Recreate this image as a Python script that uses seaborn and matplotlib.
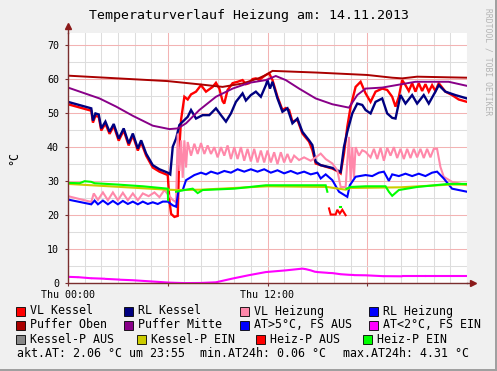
import numpy as np
import pandas as pd
import matplotlib
matplotlib.use("Agg")
import matplotlib.pyplot as plt
from matplotlib.patches import Rectangle
from matplotlib.ticker import FixedLocator, MultipleLocator, FixedFormatter
import seaborn as sns

plt.rcParams['font.family'] = ['DejaVu Sans Mono']

# ---------------- data (hours since 00:00, °C) ----------------
vl_kessel_t = [0, 1.4, 1.5, 1.65, 1.85, 2.0, 2.25, 2.5, 2.75, 3.05, 3.35, 3.65, 3.9, 4.2, 4.4, 4.7, 5.1, 5.5, 6.0,
               6.1, 6.2, 6.4, 6.6, 6.7, 6.8, 7.0, 7.2, 7.4, 7.7, 8.0, 8.3, 8.5, 8.7, 8.9, 9.1, 9.3, 9.4, 9.6, 9.9,
               10.2, 10.5, 10.7, 10.9, 11.1, 11.3, 11.5, 11.7, 11.9, 12.1, 12.3, 12.6, 12.9, 13.1, 13.3, 13.5, 13.8,
               14.1, 14.5, 14.7, 14.9, 15.2, 15.9, 16.3, 16.4, 16.6, 16.8, 17.0, 17.3, 17.6, 17.9, 18.2, 18.5, 18.9,
               19.2, 19.5, 19.7, 19.9, 20.1, 20.3, 20.5, 20.7, 20.9, 21.1, 21.3, 21.5, 21.7, 21.9, 22.1, 22.3, 22.7,
               23.1, 23.5, 24.0]
vl_kessel_v = [52.6, 50.7, 47.2, 49.2, 48.9, 44.9, 46.9, 43.9, 46.2, 41.9, 44.9, 40.5, 43.4, 39.0, 41.4, 37.5, 34.0, 32.8, 31.8,
               24.4, 20.4, 19.5, 19.8, 40.0, 48.0, 54.8, 54.0, 55.5, 56.3, 58.2, 56.3, 57.0, 57.7, 58.9, 57.2, 53.5, 52.8, 56.8, 58.8,
               59.2, 59.7, 58.5, 58.8, 60.0, 60.2, 59.7, 60.5, 61.2, 61.7, 59.7, 54.8, 50.9, 51.5, 50.9, 47.5, 48.0,
               44.0, 41.6, 39.1, 35.2, 34.7, 33.7, 32.7, 32.3, 38.1, 46.0, 51.9, 57.7, 59.2, 55.8, 53.3, 56.3, 57.2,
               56.8, 54.8, 51.9, 54.8, 59.7, 58.2, 56.5, 58.8, 56.3, 58.8, 56.5, 58.5, 56.3, 58.2, 56.5, 58.8, 56.3,
               55.3, 54.0, 53.3]

rl_kessel_t = [0, 1.4, 1.5, 1.65, 1.85, 2.0, 2.25, 2.5, 2.75, 3.05, 3.35, 3.65, 3.9, 4.2, 4.4, 4.7, 5.1, 5.5, 6.0, 6.15,
               6.3, 6.5, 6.7, 6.9, 7.2, 7.4, 7.7, 8.1, 8.5, 8.9, 9.2, 9.5, 9.8, 10.1, 10.5, 10.7, 11.0, 11.3, 11.6, 11.9,
               12.0, 12.15, 12.3, 12.6, 12.9, 13.2, 13.5, 13.8, 14.1, 14.5, 14.7, 14.9, 15.2, 15.9, 16.4, 16.6, 16.8,
               17.1, 17.4, 17.7, 17.9, 18.2, 18.5, 18.9, 19.2, 19.5, 19.7, 20.0, 20.3, 20.7, 21.0, 21.4, 21.7, 22.1,
               22.3, 22.7, 23.3, 24.0]
rl_kessel_v = [53.3, 51.4, 47.8, 49.9, 49.6, 45.5, 47.5, 44.5, 46.8, 42.5, 45.5, 41.1, 44.0, 39.6, 42.0, 38.1, 34.7, 33.5, 32.5, 32.0,
               40.1, 42.5, 46.5, 47.5, 48.9, 50.9, 48.4, 49.4, 49.4, 51.4, 49.4, 47.5, 49.9, 53.3, 55.8, 53.7, 55.3, 56.3, 54.8, 58.2,
               59.7, 57.2, 59.2, 54.3, 50.4, 51.4, 47.0, 48.4, 44.5, 42.0, 40.6, 35.7, 34.7, 33.9, 32.7, 40.1, 44.5,
               49.9, 52.8, 52.4, 50.9, 49.9, 53.3, 54.3, 49.9, 48.6, 48.4, 55.3, 52.8, 55.3, 52.8, 55.3, 52.8, 56.3,
               58.2, 56.3, 55.3, 54.3]

vl_heizung_t = [0, 1.4, 1.55, 1.8, 2.1, 2.4, 2.7, 3.0, 3.3, 3.6, 3.9, 4.2, 4.5, 4.85, 5.2, 5.5, 5.8, 6.1, 6.3, 6.5,
                6.6, 6.7, 6.8, 6.9, 7.0, 7.1, 7.2, 7.4, 7.6, 7.8, 8.0, 8.2, 8.4, 8.6, 8.8, 9.0, 9.2, 9.4, 9.6, 9.8,
                10.0, 10.2, 10.4, 10.6, 10.8, 11.0, 11.2, 11.4, 11.6, 11.8, 12.0, 12.2, 12.4, 12.6, 12.8, 13.0, 13.2,
                13.4, 13.6, 13.9, 14.2, 14.6, 14.9, 15.2, 15.5, 15.9, 16.2, 16.4, 16.7, 16.9, 17.0, 17.1, 17.2, 17.3,
                17.5, 17.7, 17.9, 18.2, 18.4, 18.6, 18.8, 19.0, 19.2, 19.4, 19.6, 19.8, 20.0, 20.2, 20.4, 20.6, 20.8,
                21.0, 21.2, 21.4, 21.6, 21.8, 22.0, 22.2, 22.4, 22.6, 23.1, 24.0]
vl_heizung_v = [25.6, 23.9, 26.4, 24.5, 26.7, 24.4, 26.7, 24.4, 26.6, 24.4, 26.4, 24.4, 26.4, 25.6, 26.7, 25.3, 27.4, 25.6, 24.5, 23.8,
                44.0, 33.0, 42.0, 31.0, 42.0, 34.0, 41.5, 37.5, 41.0, 38.0, 41.2, 38.0, 40.5, 38.0, 40.0, 37.0, 40.0, 37.5, 40.5, 36.5,
                40.0, 36.5, 40.0, 36.0, 39.5, 35.8, 39.5, 35.5, 39.0, 35.5, 39.0, 35.5, 38.5, 35.0, 38.5, 35.5, 38.0,
                35.5, 37.5, 36.2, 37.0, 36.0, 37.0, 38.1, 36.5, 35.2, 33.2, 28.3, 28.3, 43.0, 30.0, 40.0, 31.0, 40.0,
                37.5, 39.1, 38.6, 37.0, 39.5, 36.5, 39.8, 36.0, 39.8, 37.5, 40.0, 36.8, 39.5, 36.5, 39.5, 36.8, 39.5,
                37.0, 39.5, 36.8, 39.5, 37.0, 39.5, 39.5, 34.2, 31.3, 29.8, 28.8]

rl_heizung_t = [0, 1.4, 1.6, 1.8, 2.1, 2.4, 2.7, 3.0, 3.3, 3.6, 3.9, 4.2, 4.5, 4.8, 5.1, 5.4, 5.7, 6.0, 6.3, 6.5,
                6.65, 6.9, 7.1, 7.6, 8.0, 8.3, 8.6, 9.0, 9.4, 9.8, 10.2, 10.6, 11.0, 11.4, 11.8, 12.2, 12.6, 13.0,
                13.4, 13.8, 14.2, 14.6, 15.0, 15.2, 15.5, 15.9, 16.3, 16.8, 16.95, 17.3, 17.9, 18.3, 18.7, 19.0, 19.3,
                19.5, 19.9, 20.3, 20.7, 21.1, 21.5, 21.9, 22.2, 22.6, 23.1, 24.0]
rl_heizung_v = [24.6, 23.2, 24.3, 23.2, 24.3, 23.2, 24.2, 23.2, 24.2, 23.3, 24.0, 23.2, 24.0, 23.3, 23.8, 23.3, 24.0, 24.0, 22.9, 22.5,
                27.4, 27.4, 30.3, 31.8, 32.5, 32.0, 32.8, 32.2, 33.0, 32.5, 33.5, 32.8, 33.5, 32.8, 33.5, 32.5, 33.2, 32.3,
                33.0, 32.2, 32.8, 32.0, 32.5, 30.8, 32.0, 30.3, 26.9, 25.4, 28.8, 31.3, 31.8, 31.5, 32.5, 32.8, 30.1,
                32.0, 31.5, 32.2, 31.5, 32.2, 31.5, 32.5, 32.8, 30.8, 27.8, 26.9]

puffer_oben_t = [0, 3, 6, 8, 9.3, 10.5, 11.5, 11.9, 12.3, 15, 18, 19.5, 20.1, 21, 24]
puffer_oben_v = [61.0, 60.2, 59.4, 58.4, 57.7, 58.7, 60.3, 61.2, 62.4, 61.9, 61.2, 60.4, 60.2, 60.7, 60.4]

puffer_mitte_t = [0, 1.9, 2.9, 3.9, 5.1, 6.1, 6.6, 7.1, 7.9, 8.9, 9.9, 10.9, 11.9, 12.5, 13.1, 13.9, 14.9, 15.9,
                  16.9, 17.4, 17.9, 18.9, 20.9, 22.9, 24.0]
puffer_mitte_v = [57.5, 54.3, 51.9, 49.2, 46.3, 45.3, 45.5, 47.0, 50.9, 54.8, 57.2, 58.9, 59.7, 60.9, 59.7, 57.2, 54.3, 52.6,
                  51.6, 55.3, 57.2, 57.5, 59.2, 59.2, 58.0]

# outside temperature; None = no value (gap)
at_t = [0, 0.55, None, 0.65, 1.35, None, 1.45, 1.9, 2.15, None, 2.25, 3.05, None, 3.15, 3.9, 6.1, 7.0, 8.0, 8.9, 9.9,
        10.9, 11.9, 13.1, 14.1, 14.25, None, 14.35, 14.6, 14.85, None, 14.95, 15.0, 15.55, None, 15.65, 15.9, 16.35,
        None, 16.45, 16.9, 17.15, None, 17.25, 17.9, 18.95, None, 19.05, 20.05, None, 20.15, 21.45, None, 21.55, 22.05,
        None, 22.15, 23.15, None, 23.25, 24.0]
at_v = [1.9, 1.8, None, 1.78, 1.5, None, 1.48, 1.4, 1.35, None, 1.3, 1.1, None, 1.05, 0.9, 0.2, 0.06, 0.1, 0.3, 1.4,
        2.4, 3.3, 3.8, 4.31, 4.2, None, 4.1, 3.8, 3.4, None, 3.35, 3.3, 3.1, None, 3.05, 3.0, 2.7,
        None, 2.65, 2.5, 2.45, None, 2.4, 2.35, 2.1, None, 2.1, 2.06, None, 2.06, 2.06, None, 2.06, 2.06,
        None, 2.06, 2.06, None, 2.06, 2.06]

kessel_p_ein_t = [0, 6.0, 6.5, 8.0, 12.0, 15.6, 16.0, 16.7, 17.0, 20.0, 23.0, 24.0]
kessel_p_ein_v = [29.2, 27.5, 27.4, 27.5, 28.5, 28.3, 28.0, 27.5, 28.0, 28.2, 29.0, 29.0]

heiz_p_aus_t = [15.7, 15.8, 16.1, 16.2, 16.35, 16.5, 16.7]
heiz_p_aus_v = [22.0, 20.2, 20.2, 21.6, 20.5, 21.6, 20.0]

heiz_p_ein_t = [0, 0.7, 1.0, 1.4, 1.6, 3.0, 4.5, 6.0, 6.02, None, 6.5, 7.0, 7.5, 7.8, 8.1, 10.0, 11.9, 15.5, 15.6,
                None, 16.38, 16.45, None, 16.75, 17.0, 17.9, 19.1, 19.3, 19.5, 19.9, 21.0, 22.9, 24.0]
heiz_p_ein_v = [29.5, 29.4, 30.0, 29.8, 29.4, 29.0, 28.5, 27.8, 24.4, None, 26.9, 27.4, 27.8, 26.5, 27.4, 27.8, 28.8, 28.8, 26.9,
                None, 22.4, 22.4, None, 27.8, 28.3, 28.5, 28.5, 26.9, 25.7, 27.4, 28.3, 29.2, 29.2]

legend_labels = ["VL Kessel", "RL Kessel", "VL Heizung", "RL Heizung",
                 "Puffer Oben", "Puffer Mitte", "AT>5°C, FS AUS", "AT<2°C, FS EIN",
                 "Kessel-P AUS", "Kessel-P EIN", "Heiz-P AUS", "Heiz-P EIN"]
legend_colors = ["#FF0000", "#000080", "#FF88AA", "#0000FF",
                 "#AA0000", "#880088", "#0000FF", "#FF00FF",
                 "#888888", "#CCCC00", "#FF0000", "#00FF00"]

title = "Temperaturverlauf Heizung am: 14.11.2013"
footer = ["akt.AT: 2.06 °C um 23:55", "min.AT24h: 0.06 °C", "max.AT24h: 4.31 °C"]
x_ticks = [0, 12]
x_tick_labels = ["Thu 00:00", "Thu 12:00"]

# ---------------- figure ----------------
W, H = 497, 371
fig = plt.figure(figsize=(W / 100, H / 100), dpi=100, facecolor="#F0F0F0")
x0, x1, ytop, ybot = 68, 467, 32.7, 283.3
ax = fig.add_axes([x0 / W, 1 - ybot / H, (x1 - x0) / W, (ybot - ytop) / H])
ax.set_facecolor("white")


def frame(t, v):
    seg, rows = 0, []
    for a, b in zip(t, v):
        if a is None or b is None:
            seg += 1
            continue
        rows.append((a, b, seg))
    return pd.DataFrame(rows, columns=["t", "v", "seg"])


series = [
    (vl_kessel_t, vl_kessel_v, legend_colors[0], 1.7),
    (rl_kessel_t, rl_kessel_v, legend_colors[1], 1.7),
    (vl_heizung_t, vl_heizung_v, legend_colors[2], 1.5),
    (rl_heizung_t, rl_heizung_v, legend_colors[3], 1.5),
    (puffer_oben_t, puffer_oben_v, legend_colors[4], 1.4),
    (puffer_mitte_t, puffer_mitte_v, legend_colors[5], 1.4),
    (at_t, at_v, legend_colors[7], 1.5),
    (kessel_p_ein_t, kessel_p_ein_v, legend_colors[9], 1.5),
    (heiz_p_aus_t, heiz_p_aus_v, legend_colors[10], 1.5),
    (heiz_p_ein_t, heiz_p_ein_v, legend_colors[11], 1.5),
]
for t, v, c, lw in series:
    df = frame(t, v)
    sns.lineplot(data=df, x="t", y="v", units="seg", estimator=None, sort=False,
                 color=c, lw=lw, ax=ax, legend=False, solid_joinstyle="miter")

ax.set_xlim(0, 24)
ax.set_ylim(0, (ybot - ytop) / 3.404)
ax.set_xlabel("")
ax.set_ylabel("")

ax.xaxis.set_major_locator(FixedLocator([0, 6, 12, 18]))
ax.xaxis.set_major_formatter(FixedFormatter([x_tick_labels[0], "", x_tick_labels[1], ""]))
ax.xaxis.set_minor_locator(MultipleLocator(1))
ax.yaxis.set_major_locator(MultipleLocator(10))
ax.yaxis.set_minor_locator(MultipleLocator(5))
ax.grid(which="minor", color="#DDDDDD", lw=0.75)
ax.grid(which="major", color="#F3B3B3", lw=0.75)
ax.set_axisbelow(True)

axis_col = "#7A2E2E"
for s in ["top", "right"]:
    ax.spines[s].set_visible(False)
for s in ["left", "bottom"]:
    ax.spines[s].set_color(axis_col)
    ax.spines[s].set_linewidth(1.0)
ax.tick_params(which="major", axis="both", length=2, color=axis_col, labelsize=7.2, labelcolor="black")
ax.tick_params(which="minor", length=0)
ax.tick_params(axis="y", pad=4.5)
ax.tick_params(axis="x", pad=3)

# axis arrows
ax.plot([0, 0], [1, 1.02], transform=ax.transAxes, color=axis_col, lw=1.0, clip_on=False)
ax.plot([0], [1.025], marker="^", ms=4, color="#8B1A1A", transform=ax.transAxes, clip_on=False)
ax.plot([1, 1.012], [0, 0], transform=ax.transAxes, color=axis_col, lw=1.0, clip_on=False)
ax.plot([1.015], [0], marker=">", ms=4, color="#8B1A1A", transform=ax.transAxes, clip_on=False)

# texts
fig.text(249 / W, 1 - 16 / H, title, ha="center", va="center", fontsize=9.5)
fig.text(14 / W, 1 - 158 / H, "°C", rotation=90, ha="center", va="center", fontsize=8.4)
fig.text(488 / W, 1 - 62 / H, "RRDTOOL / TOBI OETIKER", rotation=270, ha="center", va="center",
         fontsize=5.8, color="#B4B4B4")

# legend (rrdtool style)
rows_y = [311, 325, 339.3]
sq_x = [[16, 124, 240, 368.7], [16, 124, 240, 368.7], [16, 137.3, 256, 362.7]]
for i, (lab, col) in enumerate(zip(legend_labels, legend_colors)):
    r, cidx = divmod(i, 4)
    sx, sy = sq_x[r][cidx], rows_y[r]
    fig.patches.append(Rectangle((sx / W, 1 - (sy + 4.5) / H), 9 / W, 9 / H, transform=fig.transFigure,
                                 facecolor=col, edgecolor="black", lw=0.6))
    fig.text((sx + 14) / W, 1 - sy / H, lab, ha="left", va="center", fontsize=8.4)
for txt, fx in zip(footer, [16.7, 200, 342.7]):
    fig.text(fx / W, 1 - 353.3 / H, txt, ha="left", va="center", fontsize=8.4)

# frame shadow
fig.patches.append(Rectangle(((W - 2.5) / W, 0), 2.5 / W, 1, transform=fig.transFigure,
                             facecolor="#A0A0A0", edgecolor="none"))
fig.patches.append(Rectangle((0, 0), 1, 2.5 / H, transform=fig.transFigure,
                             facecolor="#A0A0A0", edgecolor="none"))

fig.savefig("out.png", dpi=100, facecolor=fig.get_facecolor())
